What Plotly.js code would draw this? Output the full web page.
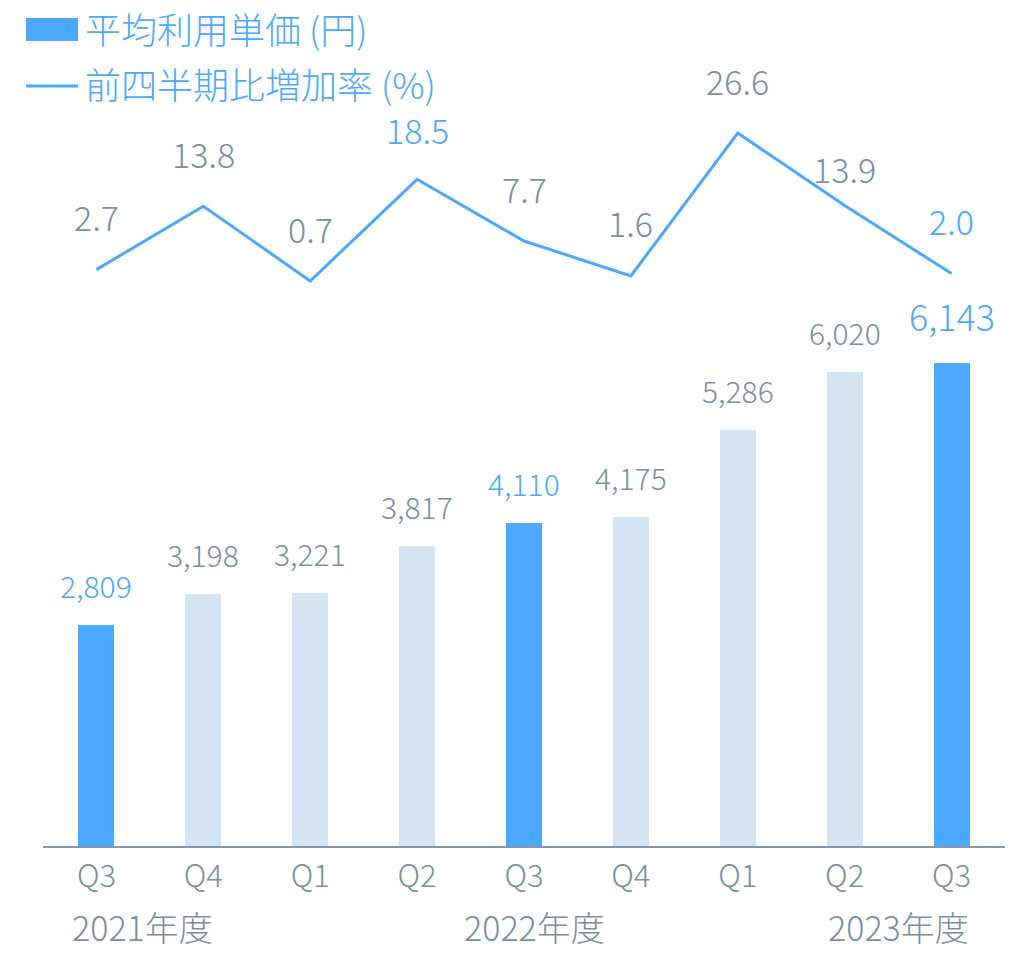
<!DOCTYPE html>
<html>
<head>
<meta charset="utf-8">
<script src="https://cdn.plot.ly/plotly-3.0.1.min.js"></script>
<style>html,body{margin:0;padding:0;background:#fff;}#chart{width:1018px;height:953px;}</style>
</head>
<body>
<div id="chart"></div>
<script>
// ---- data ----
const quarters = ["Q3", "Q4", "Q1", "Q2", "Q3", "Q4", "Q1", "Q2", "Q3"];
const fiscalYears = ["2021年度", "2022年度", "2023年度"];
const avgPrice = [2809, 3198, 3221, 3817, 4110, 4175, 5286, 6020, 6143];
const qoqGrowth = [2.7, 13.8, 0.7, 18.5, 7.7, 1.6, 26.6, 13.9, 2.0];
const highlighted = [true, false, false, false, true, false, false, false, true];
const growthHighlighted = [false, false, false, true, false, false, false, false, true];
const legendNames = ["平均利用単価 (円)", "前四半期比増加率 (%)"];

// ---- styles ----
const BLUE = "#4BA8FF";
const LIGHT = "#D6E5F4";
const GRAY = "#7B8DA4";
const FONT = "Noto Sans CJK JP, Noto Sans, sans-serif";
const W = 300;

const idx = quarters.map((_, i) => i);

const traces = [
  {
    type: "bar",
    x: idx,
    y: avgPrice,
    width: 0.336,
    marker: { color: highlighted.map(h => h ? BLUE : LIGHT) },
    hoverinfo: "skip",
    showlegend: false
  },
  {
    type: "scatter",
    mode: "lines",
    x: idx,
    y: qoqGrowth,
    yaxis: "y2",
    line: { color: BLUE, width: 3 },
    hoverinfo: "skip",
    showlegend: false
  }
];

const annotations = [];
avgPrice.forEach((v, i) => {
  const big = (i === avgPrice.length - 1);
  annotations.push({
    x: i, y: v, xref: "x", yref: "y",
    text: v.toLocaleString("en-US"),
    showarrow: false,
    yanchor: "middle",
    yshift: big ? 48 : 40,
    font: { family: FONT, size: big ? 36 : 30, weight: W, color: highlighted[i] ? BLUE : GRAY }
  });
});
qoqGrowth.forEach((v, i) => {
  annotations.push({
    x: i, y: v, xref: "x", yref: "y2",
    text: v.toFixed(1),
    showarrow: false,
    yanchor: "middle",
    yshift: i === 7 ? 37 : (i === 3 ? 50 : 53),
    font: { family: FONT, size: 34, weight: W, color: growthHighlighted[i] ? BLUE : GRAY }
  });
});
const yearPos = [0.43, 4.1, 7.5];
fiscalYears.forEach((t, k) => {
  annotations.push({
    x: yearPos[k], y: 0, xref: "x", yref: "paper",
    text: t, showarrow: false, yanchor: "bottom",
    yshift: -107,
    font: { family: FONT, size: 34, weight: W, color: GRAY }
  });
});
// legend texts
annotations.push({
  x: 83, y: 28, xref: "paper", yref: "paper", text: legendNames[0],
  showarrow: false, xanchor: "left", yanchor: "middle",
  font: { family: FONT, size: 36, weight: W, color: BLUE }
});
annotations.push({
  x: 83, y: 83, xref: "paper", yref: "paper", text: legendNames[1],
  showarrow: false, xanchor: "left", yanchor: "middle",
  font: { family: FONT, size: 36, weight: W, color: BLUE }
});

const layout = {
  width: 1018, height: 953,
  margin: { l: 42.5, r: 12.5, t: 100, b: 107 },
  paper_bgcolor: "#fff", plot_bgcolor: "#fff",
  showlegend: false,
  bargap: 0,
  xaxis: {
    range: [-0.5, 8.5],
    tickvals: idx, ticktext: quarters,
    showgrid: false, zeroline: false,
    showline: true, linecolor: "#8097AD", linewidth: 1.5,
    ticks: "", ticklabelstandoff: 2,
    tickfont: { family: FONT, size: 31, weight: W, color: GRAY }
  },
  yaxis: {
    range: [0, 9479],
    visible: false, showgrid: false, zeroline: false, fixedrange: true
  },
  yaxis2: {
    range: [-98.18, 32.38],
    overlaying: "y", visible: false, showgrid: false, zeroline: false
  },
  annotations: annotations,
  shapes: []
};

Plotly.newPlot("chart", traces, layout, { displayModeBar: false, staticPlot: true }).then(gd => {
  // convert legend annotations from pixel positions to paper coordinates
  const fs = gd._fullLayout._size;
  const toPX = px => (px - fs.l) / fs.w;
  const toPY = py => 1 - (py - fs.t) / fs.h;
  const ann = gd.layout.annotations.slice();
  const n = ann.length;
  ann[n - 2] = Object.assign({}, ann[n - 2], { x: toPX(83), y: toPY(28) });
  ann[n - 1] = Object.assign({}, ann[n - 1], { x: toPX(83), y: toPY(83) });
  const shapes = [
    { type: "rect", xref: "paper", yref: "paper", x0: toPX(26), x1: toPX(78), y0: toPY(41), y1: toPY(18), fillcolor: BLUE, line: { width: 0 } },
    { type: "line", xref: "paper", yref: "paper", x0: toPX(26), x1: toPX(78), y0: toPY(86), y1: toPY(86), line: { color: BLUE, width: 3 } }
  ];
  Plotly.relayout(gd, { annotations: ann, shapes: shapes });
});
</script>
</body>
</html>
